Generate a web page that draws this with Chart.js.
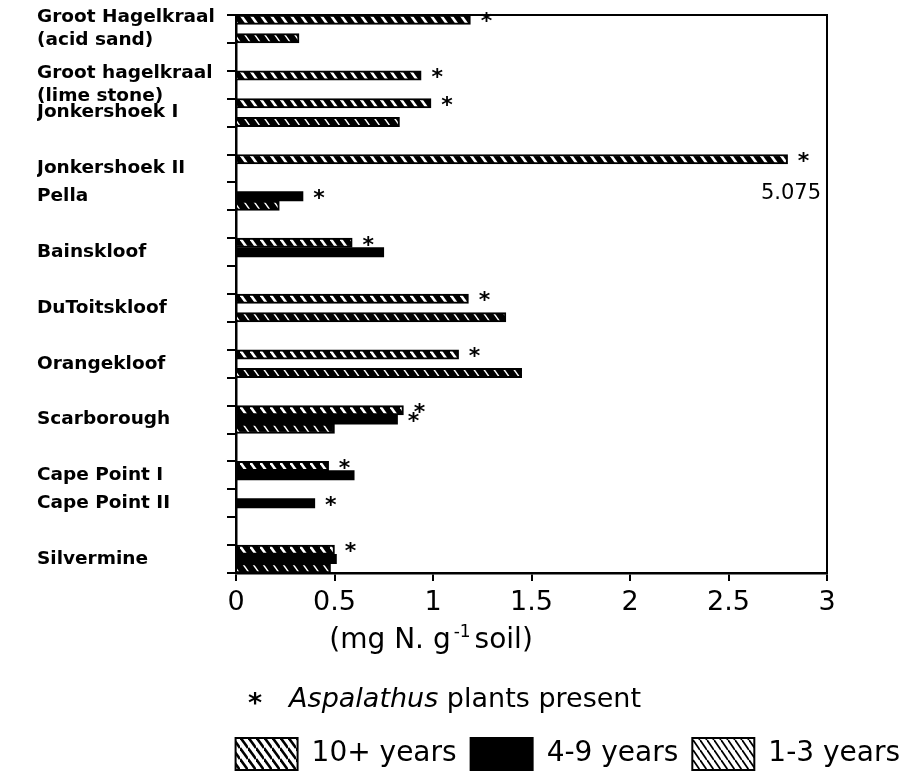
<!DOCTYPE html>
<html>
<head>
<meta charset="utf-8">
<title>Soil nitrogen by site and stand age</title>
<script src="https://cdn.jsdelivr.net/npm/chart.js@4/dist/chart.umd.min.js"></script>
<style>
  html, body { margin: 0; padding: 0; background: #fff; }
  #wrap { width: 914px; height: 774px; position: relative; }
  canvas { display: block; }
</style>
</head>
<body>
<div id="wrap"><canvas id="chart" width="914" height="774"></canvas></div>
<script>
// Sampling sites, top to bottom; empty strings are spacer rows between sites.
const sites = [
  ['Groot Hagelkraal', '(acid sand)'], '',
  ['Groot hagelkraal', '(lime stone)'],
  'Jonkershoek I', '',
  'Jonkershoek II',
  'Pella', '',
  'Bainskloof', '',
  'DuToitskloof', '',
  'Orangekloof', '',
  'Scarborough', '',
  'Cape Point I',
  'Cape Point II', '',
  'Silvermine'
];

// Soil nitrogen (mg N per g soil) under stands of each age; null = not sampled.
const tenPlusYears = [1.19, null, 0.94, 0.99, null, 5.075, null, null, 0.59, null, 1.18, null, 1.13, null, 0.85, null, 0.47, null, null, 0.50];
const fourToNineYears = [null, null, null, null, null, null, 0.34, null, 0.75, null, null, null, null, null, 0.82, null, 0.60, 0.40, null, 0.51];
const oneToThreeYears = [0.32, null, null, 0.83, null, null, 0.22, null, null, null, 1.37, null, 1.45, null, 0.50, null, null, null, null, 0.48];

// Stands where Aspalathus plants were present (1 = present).
const aspalathusTenPlus = [1, 0, 1, 1, 0, 1, 0, 0, 1, 0, 1, 0, 1, 0, 1, 0, 1, 0, 0, 1];
const aspalathusFourToNine = [0, 0, 0, 0, 0, 0, 1, 0, 0, 0, 0, 0, 0, 0, 1, 0, 0, 1, 0, 0];

const seriesNames = ['10+ years', '4-9 years', '1-3 years'];
const xTicks = [0, 0.5, 1, 1.5, 2, 2.5, 3];

// Values beyond the axis are drawn as a broken bar ending here, with the value printed.
const AXIS_BREAK = 2.8;
const FONT = 'DejaVu Sans';

function stripes(back, ink, width, period, rise) {
  const c = document.createElement('canvas');
  c.width = period; c.height = rise;
  const g = c.getContext('2d');
  g.fillStyle = back;
  g.fillRect(0, 0, period, rise);
  g.strokeStyle = ink;
  g.lineWidth = width;
  for (const k of [-1, 0, 1]) {
    g.beginPath();
    g.moveTo(0, k * rise);
    g.lineTo(period, rise + k * rise);
    g.stroke();
  }
  return g.createPattern(c, 'repeat');
}

const barFills = [
  stripes('#000', '#fff', 2.6, 10, 14),
  '#000',
  stripes('#000', '#fff', 1.4, 10, 14)
];
const keyFills = [
  stripes('#fff', '#000', 2.6, 8, 11),
  '#000',
  stripes('#fff', '#000', 1.8, 7, 10)
];

const clip = v => (v == null ? null : Math.min(v, AXIS_BREAK));

// Plot frame: top and right edges.
const frame = {
  id: 'frame',
  afterDraw(chart) {
    const { ctx, chartArea: a } = chart;
    ctx.save();
    ctx.strokeStyle = '#000';
    ctx.lineWidth = 2;
    ctx.beginPath();
    ctx.moveTo(a.left, a.top);
    ctx.lineTo(a.right, a.top);
    ctx.lineTo(a.right, a.bottom);
    ctx.stroke();
    ctx.restore();
  }
};

// Asterisks after bars where Aspalathus was present, and the broken-bar value.
const marks = {
  id: 'marks',
  afterDatasetsDraw(chart) {
    const ctx = chart.ctx;
    ctx.save();
    ctx.fillStyle = '#000';
    ctx.textAlign = 'center';
    ctx.textBaseline = 'middle';
    ctx.font = `bold 22px "${FONT}"`;
    [[0, aspalathusTenPlus], [1, aspalathusFourToNine]].forEach(([di, flags]) => {
      const meta = chart.getDatasetMeta(di);
      flags.forEach((f, i) => {
        if (!f || !meta.data[i]) return;
        const bar = meta.data[i];
        ctx.fillText('*', bar.x + 16, bar.y + 3);
      });
    });
    const meta0 = chart.getDatasetMeta(0);
    ctx.font = `21px "${FONT}"`;
    ctx.textAlign = 'right';
    tenPlusYears.forEach((v, i) => {
      if (v != null && v > AXIS_BREAK) {
        ctx.fillText(v.toFixed(3), chart.chartArea.right - 6, meta0.data[i].y + 34);
      }
    });
    ctx.restore();
  }
};

// Axis title with superscript, and the asterisk key.
const notes = {
  id: 'notes',
  afterDraw(chart) {
    const { ctx, chartArea: a } = chart;
    ctx.save();
    ctx.fillStyle = '#000';
    ctx.textAlign = 'left';
    ctx.textBaseline = 'alphabetic';

    const big = `28px "${FONT}"`, small = `17px "${FONT}"`;
    const parts = [['(mg N. g', big, 0, 3], ['-1', small, -11, 4], ['soil)', big, 0, 0]];
    let total = 0;
    parts.forEach(([t, f, , gap]) => { ctx.font = f; total += ctx.measureText(t).width + gap; });
    let x = a.left + 0.33 * (a.right - a.left) - total / 2;
    const base = a.bottom + 75;
    parts.forEach(([t, f, dy, gap]) => {
      ctx.font = f;
      ctx.fillText(t, x, base + dy);
      x += ctx.measureText(t).width + gap;
    });

    let kx = a.left + 12;
    const kb = a.bottom + 134;
    ctx.font = `bold 27px "${FONT}"`;
    ctx.fillText('*', kx, kb + 5);
    kx += ctx.measureText('*').width + 27;
    ctx.font = `italic 27px "${FONT}"`;
    ctx.fillText('Aspalathus', kx, kb);
    kx += ctx.measureText('Aspalathus ').width;
    ctx.font = `27px "${FONT}"`;
    ctx.fillText('plants present', kx, kb);
    ctx.restore();
  }
};

// Lower the legend row toward the page edge.
const legendDrop = {
  id: 'legendDrop',
  afterLayout(chart) {
    const l = chart.legend;
    if (l) { l.top += 6; l.bottom += 6; }
  }
};

new Chart(document.getElementById('chart'), {
  type: 'bar',
  data: {
    labels: sites,
    datasets: [
      { label: seriesNames[0], data: tenPlusYears.map(clip), backgroundColor: barFills[0], borderColor: '#000', borderWidth: 2 },
      { label: seriesNames[1], data: fourToNineYears.map(clip), backgroundColor: barFills[1], borderColor: '#000', borderWidth: 0 },
      { label: seriesNames[2], data: oneToThreeYears.map(clip), backgroundColor: barFills[2], borderColor: '#000', borderWidth: 2 }
    ]
  },
  options: {
    indexAxis: 'y',
    responsive: false,
    animation: false,
    devicePixelRatio: 1,
    datasets: { bar: { barPercentage: 1, categoryPercentage: 1, borderSkipped: 'start' } },
    layout: { padding: { left: 37, top: 15, right: 0, bottom: 0 } },
    scales: {
      x: {
        type: 'linear',
        min: 0, max: 3,
        afterBuildTicks: s => { s.ticks = xTicks.map(v => ({ value: v })); },
        afterFit: s => { s.height = 145; },
        ticks: {
          callback: v => String(v),
          font: { family: FONT, size: 27 },
          color: '#000', padding: 6, maxRotation: 0, autoSkip: false
        },
        grid: { drawOnChartArea: false, drawTicks: true, tickLength: 8, color: '#000', lineWidth: 2 },
        border: { display: true, color: '#000', width: 2.5 }
      },
      y: {
        type: 'category',
        position: 'left',
        offset: true,
        afterFit: s => { s.width = 199; },
        ticks: {
          crossAlign: 'far',
          autoSkip: false,
          padding: 0,
          font: { family: FONT, size: 18.5, weight: 'bold', lineHeight: 1.26 },
          color: '#000'
        },
        grid: { offset: true, drawOnChartArea: false, drawTicks: true, tickLength: 9, color: '#000', lineWidth: 2 },
        border: { display: true, color: '#000', width: 2.5 }
      },
      yRight: {
        type: 'linear',
        position: 'right',
        afterFit: s => { s.width = 87; },
        ticks: { display: false },
        grid: { display: false },
        border: { display: false }
      }
    },
    plugins: {
      tooltip: { enabled: false },
      legend: {
        position: 'bottom',
        align: 'end',
        fullSize: true,
        labels: {
          boxWidth: 62,
          boxHeight: 32,
          padding: 14,
          color: '#000',
          font: { family: FONT, size: 28 },
          generateLabels(chart) {
            return chart.data.datasets.map((ds, i) => ({
              text: ds.label,
              fillStyle: keyFills[i],
              strokeStyle: '#000',
              lineWidth: 2,
              hidden: false,
              datasetIndex: i,
              fontColor: '#000'
            }));
          }
        }
      }
    }
  },
  plugins: [frame, marks, notes, legendDrop]
});
</script>
</body>
</html>
